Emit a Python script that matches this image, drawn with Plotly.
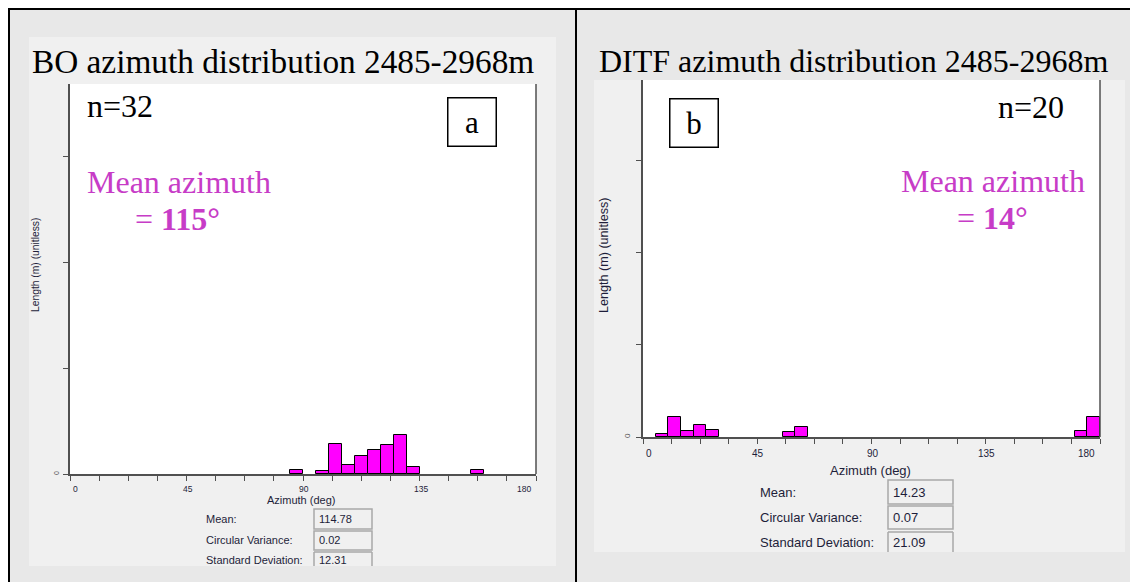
import plotly.graph_objects as go

# The page puts the figure 8 px in from the top-left corner, so the figure is
# 8 px smaller than the window and screen coordinates are shifted by 8.
OFF = 8
W, H = 1138 - OFF, 582 - OFF

# ---------------- data ----------------
bin_width = 5
left_bin_centers = [87.5, 97.5, 102.5, 107.5, 112.5, 117.5, 122.5, 127.5, 132.5, 157.5]
left_lengths = [0.41, 0.25, 2.83, 0.82, 1.67, 2.24, 2.74, 3.68, 0.63, 0.41]

right_bin_centers = [7.5, 12.5, 17.5, 22.5, 27.5, 57.5, 62.5, 172.5, 177.5]
right_lengths = [0.33, 2.17, 0.68, 1.27, 0.79, 0.54, 1.12, 0.68, 2.17]

x_tick_vals = [0, 11.25, 22.5, 33.75, 45, 56.25, 67.5, 78.75, 90, 101.25,
               112.5, 123.75, 135, 146.25, 157.5, 168.75, 180]
x_label_vals = [0, 45, 90, 135, 180]
x_label_text = ["0", "45", "90", "135", "180"]
y_tick_vals = [0, 10, 20, 30]

left_title = "BO azimuth distribution 2485-2968m"
right_title = "DITF azimuth distribution 2485-2968m"
left_n = "n=32"
right_n = "n=20"
left_mean_text = "115°"
right_mean_text = "14°"
stat_labels = ["Mean:", "Circular Variance:", "Standard Deviation:"]
left_stats = ["114.78", "0.02", "12.31"]
right_stats = ["14.23", "0.07", "21.09"]

# ---------------- styling helpers ----------------
BAR = "#ff00ff"
MAG = "#c73cc7"
AX = "#505050"
SERIF = "Liberation Serif, Times New Roman, serif"
SANS = "Liberation Sans, Arial, sans-serif"
TXT = "#1e1e3a"


def px(x):
    return (x - OFF) / W


def py(y):
    return 1 - (y - OFF) / H


fig = go.Figure()
fig.add_trace(go.Bar(x=left_bin_centers, y=left_lengths, width=bin_width,
                     marker=dict(color=BAR, line=dict(color="black", width=1)),
                     xaxis="x", yaxis="y", hoverinfo="skip"))
fig.add_trace(go.Bar(x=right_bin_centers, y=right_lengths, width=bin_width,
                     marker=dict(color=BAR, line=dict(color="black", width=1)),
                     xaxis="x2", yaxis="y2", hoverinfo="skip"))

axc = dict(showgrid=False, zeroline=False, showline=True, linecolor=AX, linewidth=1.5,
           ticks="outside", ticklen=5, tickcolor=AX, tickwidth=1.2, fixedrange=True)

fig.update_layout(
    template="none",
    width=W, height=H, margin=dict(l=0, r=0, t=0, b=0),
    paper_bgcolor="white", plot_bgcolor="rgba(0,0,0,0)", showlegend=False, bargap=0,
    xaxis=dict(domain=[px(70), px(536)], range=[0, 180], tickvals=x_tick_vals,
               ticktext=[""] * len(x_tick_vals), anchor="y", **axc),
    yaxis=dict(domain=[py(474), py(84)], range=[0, 36.8], tickvals=y_tick_vals,
               ticktext=[""] * len(y_tick_vals), anchor="x", **axc),
    xaxis2=dict(domain=[px(643), px(1100)], range=[0, 180], tickvals=x_tick_vals,
                ticktext=[""] * len(x_tick_vals), anchor="y2", **axc),
    yaxis2=dict(domain=[py(437), py(80)], range=[0, 38.7], tickvals=y_tick_vals,
                ticktext=[""] * len(y_tick_vals), anchor="x2", **axc),
)

shapes = []


def rect(x0, y0, x1, y1, fill, layer="below"):
    shapes.append(dict(type="rect", xref="paper", yref="paper",
                       x0=px(x0), x1=px(x1), y0=py(y1), y1=py(y0),
                       fillcolor=fill, line=dict(width=0), layer=layer))


def line(x0, y0, x1, y1, color, lw, layer="above"):
    shapes.append(dict(type="line", xref="paper", yref="paper",
                       x0=px(x0), x1=px(x1), y0=py(y0), y1=py(y1),
                       line=dict(color=color, width=lw), layer=layer))


# backgrounds
rect(8, 8, 1138, 582, "#e8e8e8")
rect(29, 37, 556, 566, "#f0f0f0")
rect(594, 80, 1125, 552, "#f0f0f0")
rect(70, 84, 536, 474, "white")
rect(643, 80, 1100, 437, "white")

# outer frame
line(8, 9, 1137, 9, "black", 2)
line(9, 8, 9, 582, "black", 2)
line(576, 8, 576, 582, "black", 2)
line(1136, 8, 1136, 582, "black", 2)

# right frame lines of the plot areas
line(536, 84, 536, 474, AX, 1.5)
line(1100, 80, 1100, 437, AX, 1.5)


# stat boxes
def stat_boxes(x0, x1, rows, bottom):
    for i, (a, b) in enumerate(rows):
        if i < len(rows) - 1:
            shapes.append(dict(type="rect", xref="paper", yref="paper",
                               x0=px(x0), x1=px(x1), y0=py(b), y1=py(a),
                               line=dict(color="#a8a8a8", width=1.5), layer="above"))
        else:
            line(x0, bottom, x0, a, "#a8a8a8", 1.5)
            line(x0, a, x1, a, "#a8a8a8", 1.5)
            line(x1, a, x1, bottom, "#a8a8a8", 1.5)


stat_boxes(314, 372, [(509, 529), (531, 550), (552, 566)], 566)
stat_boxes(888, 953, [(480, 504), (506, 529), (532, 552)], 552)

annotations = []


def text(x, y, t, size, color="black", family=SERIF, xanchor="left", angle=0, **kw):
    d = dict(x=px(x), y=py(y), xref="paper", yref="paper", text=t, showarrow=False,
             xanchor=xanchor, yanchor="middle", textangle=angle,
             font=dict(size=size, color=color, family=family))
    d.update(kw)
    annotations.append(d)


# titles
text(30, 61, left_title, 33.3)
text(597, 61, right_title, 32)

# n labels
text(85, 106, left_n, 32)
text(996, 107, right_n, 32)

# panel letters
for cx, cy, letter in [(472, 122, "a"), (694, 123, "b")]:
    annotations.append(dict(x=px(cx), y=py(cy), xref="paper", yref="paper", text=letter,
                            showarrow=False, xanchor="center", yanchor="middle",
                            width=47, height=47, borderpad=0, borderwidth=1.5,
                            bordercolor="black", bgcolor="white",
                            font=dict(size=31, color="black", family=SERIF)))

# mean azimuth texts
text(85, 182, "Mean azimuth", 32, MAG)
text(133, 219, "= <b>" + left_mean_text + "</b>", 32, MAG)
text(899, 181, "Mean azimuth", 32, MAG)
text(955, 218, "= <b>" + right_mean_text + "</b>", 32, MAG)

# y axis titles
text(35, 265, "Length (m) (unitless)", 10.3, TXT, SANS, xanchor="center", angle=-90)
text(604, 256, "Length (m) (unitless)", 12.6, TXT, SANS, xanchor="center", angle=-90)

# tiny zero labels on the y axes
text(56, 473, "0", 7, "#555", SANS, xanchor="center", angle=-90)
text(627, 436, "0", 8, "#555", SANS, xanchor="center", angle=-90)

# x tick labels (bound to the axes)
for v, t in zip(x_label_vals, x_label_text):
    anchor = "left" if v == x_label_vals[0] else ("right" if v == x_label_vals[-1] else "center")
    shift = 1 if anchor == "left" else (-3 if anchor == "right" else 1)
    annotations.append(dict(x=v, y=0, xref="x", yref="y domain", text=t, showarrow=False,
                            xanchor=anchor, yanchor="top", yshift=-8, xshift=shift,
                            font=dict(size=8.5, color=TXT, family=SANS)))
    annotations.append(dict(x=v, y=0, xref="x2", yref="y2 domain", text=t, showarrow=False,
                            xanchor=anchor, yanchor="top", yshift=-9, xshift=shift,
                            font=dict(size=10, color=TXT, family=SANS)))

# x axis titles
text(301, 500, "Azimuth (deg)", 11, TXT, SANS, xanchor="center")
text(870, 470, "Azimuth (deg)", 13, TXT, SANS, xanchor="center")

# stat tables
for lbl, val, yy in zip(stat_labels, left_stats, [519, 540, 560]):
    text(204, yy, lbl, 11, TXT, SANS)
    text(317, yy, val, 11, TXT, SANS)
for lbl, val, yy in zip(stat_labels, right_stats, [492, 517, 542]):
    text(758, yy, lbl, 13, TXT, SANS)
    text(891, yy, val, 13, TXT, SANS)

fig.update_layout(shapes=shapes, annotations=annotations)
fig.write_html("out.html")
